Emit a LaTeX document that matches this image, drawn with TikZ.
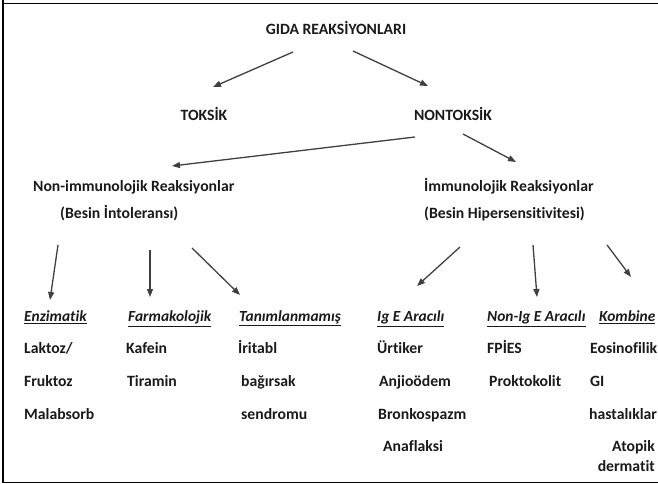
\documentclass[tikz,border=0pt]{standalone}
\usepackage{fontspec}
\setmainfont[Ligatures=NoCommon]{Carlito}
\usetikzlibrary{arrows.meta}
\definecolor{txt}{HTML}{1A1A1A}
\definecolor{arr}{HTML}{404040}
\begin{document}
\begin{tikzpicture}[x=1pt,y=-1pt,
  lbl/.style={inner sep=0pt, text=txt, font=\fontsize{15.7}{18}\selectfont\bfseries, text height=10.5pt, text depth=3pt},
  lw/.style={lbl, anchor=west},
  hd/.style={lbl, anchor=west, font=\fontsize{15.4}{18}\selectfont\bfseries\itshape},
  conn/.style={draw=arr, line width=1.3pt, -{Triangle[length=8pt,width=6pt]}},
  frame/.style={draw=black, line width=1.4pt}]
\useasboundingbox (0,0) rectangle (658,484);
% frame
\draw[frame] (3,0) -- (3,482.5) -- (658,482.5);
\draw[frame] (3,3.5) -- (658,3.5);
% top levels
\node[lbl] (gida) at (336,31) {GIDA REAKSİYONLARI};
\node[lbl] (toksik) at (204,117) {TOKSİK};
\node[lbl] (nontoksik) at (453,117) {NONTOKSİK};
\node[lw] (nonimm) at (33,188) {Non-immunolojik Reaksiyonlar};
\node[lw] (besinint) at (60,215) {(Besin İntoleransı)};
\node[lw] (imm) at (424,188) {İmmunolojik Reaksiyonlar};
\node[lw] (besinhip) at (424,215) {(Besin Hipersensitivitesi)};
% headers
\node[hd] (enz) at (24,318) {\underline{Enzimatik}};
\node[hd] (farm) at (128,318) {\underline{Farmakolojik}};
\node[hd] (tan) at (239,318) {\underline{Tanımlanmamış}};
\node[hd] (ige) at (377,318) {\underline{Ig E Aracılı}};
\node[hd] (nonige) at (487,318) {\underline{Non-Ig E Aracılı}};
\node[hd] (komb) at (599,318) {\underline{Kombine}};
% items
\node[lw] (laktoz) at (24,350) {Laktoz/};
\node[lw] (fruktoz) at (24,383) {Fruktoz};
\node[lw] (malab) at (24,416) {Malabsorb};
\node[lw] (kafein) at (126,350) {Kafein};
\node[lw] (tiramin) at (127,383) {Tiramin};
\node[lw] (iritabl) at (238,350) {İritabl};
\node[lw] (bagirsak) at (241,383) {bağırsak};
\node[lw] (sendromu) at (241,416) {sendromu};
\node[lw] (urtiker) at (377,350) {Ürtiker};
\node[lw] (anjio) at (379,383) {Anjioödem};
\node[lw] (bronko) at (378,416) {Bronkospazm};
\node[lw] (anaf) at (383,448) {Anaflaksi};
\node[lw] (fpies) at (487,350) {FPİES};
\node[lw] (prokto) at (489,383) {Proktokolit};
\node[lw] (eosin) at (590,350) {Eosinofilik};
\node[lw] (gi) at (590,383) {GI};
\node[lw] (hasta) at (589,416) {hastalıklar};
\node[lbl, anchor=east] (atopik) at (655,448) {Atopik};
\node[lbl, anchor=east] (dermatit) at (655,468) {dermatit};
% connector end points
\coordinate (g1) at (293,52);  \coordinate (t1) at (213,87);
\coordinate (g2) at (353,51);  \coordinate (n1) at (428,86);
\coordinate (n2) at (415,137); \coordinate (ni1) at (172,166);
\coordinate (n3) at (463,134); \coordinate (im1) at (516,162);
\coordinate (b1) at (58,245);  \coordinate (e1) at (50,300);
\coordinate (b2) at (150,250); \coordinate (f1) at (150,297);
\coordinate (b3) at (192,248); \coordinate (ta1) at (240,295);
\coordinate (h1) at (460,247); \coordinate (ig1) at (417,286);
\coordinate (h2) at (533,245); \coordinate (ng1) at (537,297);
\coordinate (h3) at (607,245); \coordinate (k1) at (631,277);
\draw[conn] (g1) -- (t1);
\draw[conn] (g2) -- (n1);
\draw[conn] (n2) -- (ni1);
\draw[conn] (n3) -- (im1);
\draw[conn] (b1) -- (e1);
\draw[conn] (b2) -- (f1);
\draw[conn] (b3) -- (ta1);
\draw[conn] (h1) -- (ig1);
\draw[conn] (h2) -- (ng1);
\draw[conn] (h3) -- (k1);
\end{tikzpicture}
\end{document}
